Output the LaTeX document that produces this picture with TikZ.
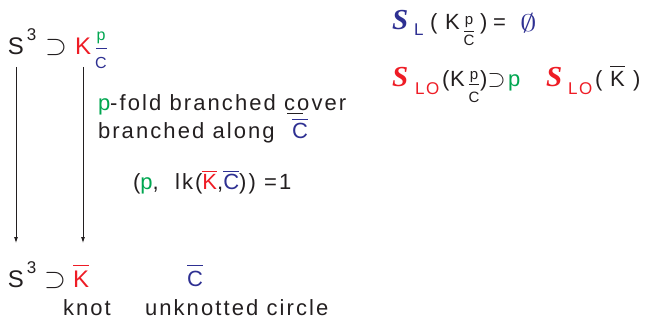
\documentclass[tikz,border=0pt]{standalone}
\usepackage{fontspec}
\setmainfont{Liberation Sans}[LetterSpace=9.5]
\newfontfamily\tms{Liberation Serif}[BoldItalicFont=*-Bold Italic]
\usetikzlibrary{arrows.meta}
\definecolor{kred}{HTML}{EE1C25}
\definecolor{kblue}{HTML}{2E3092}
\definecolor{kgreen}{HTML}{00A650}
\definecolor{kink}{HTML}{231F20}
\newcommand\fs[1]{\fontsize{#1pt}{#1pt}\selectfont}
% letter with a bar above it
\newcommand\ovl[2][4pt]{\vbox{\hrule height 1.1pt\kern#1\hbox{#2}}}
\newcommand\bigS{{\tms\bfseries\itshape S}}
\tikzset{
  txt/.style={inner sep=0pt, outer sep=0pt, anchor=base west, text=kink},
  arr/.style={draw=kink, line width=0.8pt, -{Latex[length=6pt,width=4pt]}},
  fbar/.style={line width=0.9pt}
}
\begin{document}
\begin{tikzpicture}[x=1pt,y=-1pt]
\useasboundingbox (0,0) rectangle (647,320);

% covering space S^3 containing K_{p/C}
\node[txt, font=\fs{24}] (s1) at (8,55) {S};
\node[txt, font=\fs{17}] (e1) at (27,41) {3};
\node[txt] (c1) at (45,55) {\scalebox{2.8}[2.8]{$\supset$}};
\node[txt, font=\fs{24}, text=kred] (k1) at (75,55) {K};
\node[txt, font=\fs{16}, text=kgreen, anchor=base] (p1) at (101,41) {p};
\node[txt, font=\fs{16}, text=kblue, anchor=base] (q1) at (101,69) {C};
\draw[fbar, kblue] (96,48) -- (107,48);

% base S^3 containing the knot
\node[txt, font=\fs{24}] (s2) at (8,287) {S};
\node[txt, font=\fs{17}] (e2) at (27,273) {3};
\node[txt] (c2) at (44,287) {\scalebox{2.8}[2.8]{$\supset$}};
\node[txt, font=\fs{24}, text=kred] (k2) at (73,287) {\ovl[4.5pt]{K}};
\node[txt, font=\fs{22}, text=kblue] (cc) at (187,286) {\ovl[5pt]{C}};
\node[txt, font=\fs{22}] (kn) at (63,315) {knot};
\node[txt, font=\fs{22}] (uc) at (145,315) {unknotted circle};

% covering maps
\coordinate (la) at ([yshift=-12pt]s1.base);
\coordinate (lb) at ([yshift=44pt]s2.base);
\draw[arr] (la) -- (la |- lb);
\coordinate (ra) at ([yshift=-12pt]k1.base);
\draw[arr] (ra) -- (ra |- lb);

% description of the cover
\node[txt, font=\fs{22}] (d1) at (98,111) {\textcolor{kgreen}{p}-fold branched cover};
\draw[kink, line width=0.9pt] (287,113) -- (303,113);
\node[txt, font=\fs{22}] (d2) at (98,139) {branched along};
\node[txt, font=\fs{22}, text=kblue] (d3) at (292,139) {\ovl[4pt]{C}};
\node[txt, font=\fs{22}] (d4) at (133,190) {(\textcolor{kgreen}{p},\ \ lk(\textcolor{kred}{\ovl[3pt]{K}},\textcolor{kblue}{\ovl[3pt]{C}})) =1};

% left-orderability statements
\node[txt, font=\fs{29}, text=kblue] (r1) at (392,30) {\bigS};
\node[txt, font=\fs{17}, text=kblue] (r1l) at (414,36) {L};
\node[txt, font=\fs{22}] (r1a) at (430,30) {(};
\node[txt, font=\fs{22}] (r1k) at (445,30) {K};
\node[txt, font=\fs{15}, anchor=base] (r1p) at (469,25) {p};
\node[txt, font=\fs{15}, anchor=base] (r1c) at (469,46) {C};
\draw[fbar, kink] (464,31) -- (474,31);
\node[txt, font=\fs{22}] (r1b) at (480,30) {)};
\node[txt, font=\fs{22}] (r1e) at (493,30) {=};
\node[txt, text=kblue] (r1o) at (520,32) {\scalebox{3.3}[2.4]{$\emptyset$}};

\node[txt, font=\fs{29}, text=kred] (r2) at (392,87) {\bigS};
\node[txt, font=\fs{17}, text=kred] (r2l) at (415,95) {LO};
\node[txt, font=\fs{22}] (r2a) at (442,87) {(};
\node[txt, font=\fs{22}] (r2k) at (450,87) {K};
\node[txt, font=\fs{15}, anchor=base] (r2p) at (474,80) {p};
\node[txt, font=\fs{15}, anchor=base] (r2c) at (474,103) {C};
\draw[fbar, kink] (469,84) -- (479,84);
\node[txt, font=\fs{22}] (r2b) at (480,87) {)};
\node[txt] (r2s) at (487.5,87) {\scalebox{2.3}[2.4]{$\supset$}};
\node[txt, font=\fs{22}, text=kgreen] (r2g) at (508,87) {p};
\node[txt, font=\fs{29}, text=kred] (r3) at (546,87) {\bigS};
\node[txt, font=\fs{17}, text=kred] (r3l) at (568,95) {LO};
\node[txt, font=\fs{22}] (r3a) at (595,87) {(};
\node[txt, font=\fs{22}] (r3k) at (610,87) {\ovl[5pt]{K}};
\node[txt, font=\fs{22}] (r3b) at (633,87) {)};
\end{tikzpicture}
\end{document}
